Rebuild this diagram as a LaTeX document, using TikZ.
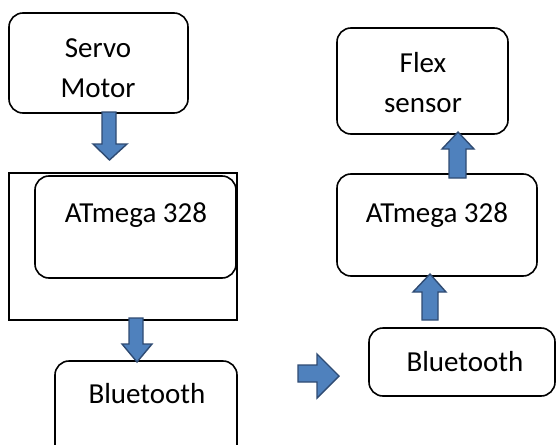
\documentclass[tikz,border=0pt]{standalone}
\usepackage{fontspec}
\setmainfont{Carlito}
\definecolor{arrfill}{HTML}{4F81BD}
\definecolor{arrdraw}{HTML}{2F4B73}
\begin{document}
\begin{tikzpicture}[x=1pt,y=-1pt,
  box/.style={draw=black, line width=1.6pt, rounded corners=14pt, inner sep=0pt},
  sqbox/.style={draw=black, line width=1.6pt, inner sep=0pt},
  txt/.style={anchor=base, inner sep=0pt, font=\fontsize{29}{35}\selectfont},
  blockarrow/.style={fill=arrfill, draw=arrdraw, line width=1.4pt, line join=miter}]
\clip (0,0) rectangle (556,444);
\fill[white] (0,0) rectangle (556,444);
% left column
\node[box, minimum width=179pt, minimum height=100pt] (servo) at (98.5,63) {};
\node[txt] (servoA) at (98,57) {Servo};
\node[txt] (servoB) at (98,97) {Motor};
\node[sqbox, minimum width=228pt, minimum height=147pt] (outer) at (123,246.5) {};
\node[box, minimum width=201pt, minimum height=102pt] (atmL) at (135.5,227) {};
\node[txt] (atmLT) at (136,222) {ATmega 328};
\node[box, minimum width=182pt, minimum height=110pt] (btL) at (146,416) {};
\node[txt] (btLT) at (147,403) {Bluetooth};
% right column
\node[box, minimum width=171pt, minimum height=106pt] (flex) at (422.5,81) {};
\node[txt] (flexA) at (423,72) {Flex};
\node[txt] (flexB) at (423,112) {sensor};
\node[box, minimum width=200pt, minimum height=102pt] (atmR) at (437,225) {};
\node[txt] (atmRT) at (437,222) {ATmega 328};
\node[box, minimum width=186pt, minimum height=68pt] (btR) at (462,362) {};
\node[txt] (btRT) at (465,371) {Bluetooth};
% block arrows
\draw[blockarrow] (102,112) -- (116,112) -- (116,144) -- (127,144) -- (109.5,160) -- (93,144) -- (102,144) -- cycle;
\draw[blockarrow] (129,318) -- (143,318) -- (143,344) -- (152,344) -- (137,362) -- (122,344) -- (129,344) -- cycle;
\draw[blockarrow] (449,178) -- (466,178) -- (466,149) -- (474,149) -- (458,132) -- (442,149) -- (449,149) -- cycle;
\draw[blockarrow] (422,320) -- (438,320) -- (438,292) -- (446,292) -- (430,274) -- (413,292) -- (422,292) -- cycle;
\draw[blockarrow] (298,365) -- (317,365) -- (317,354) -- (339,376) -- (317,398) -- (317,382) -- (298,382) -- cycle;
\end{tikzpicture}
\end{document}
